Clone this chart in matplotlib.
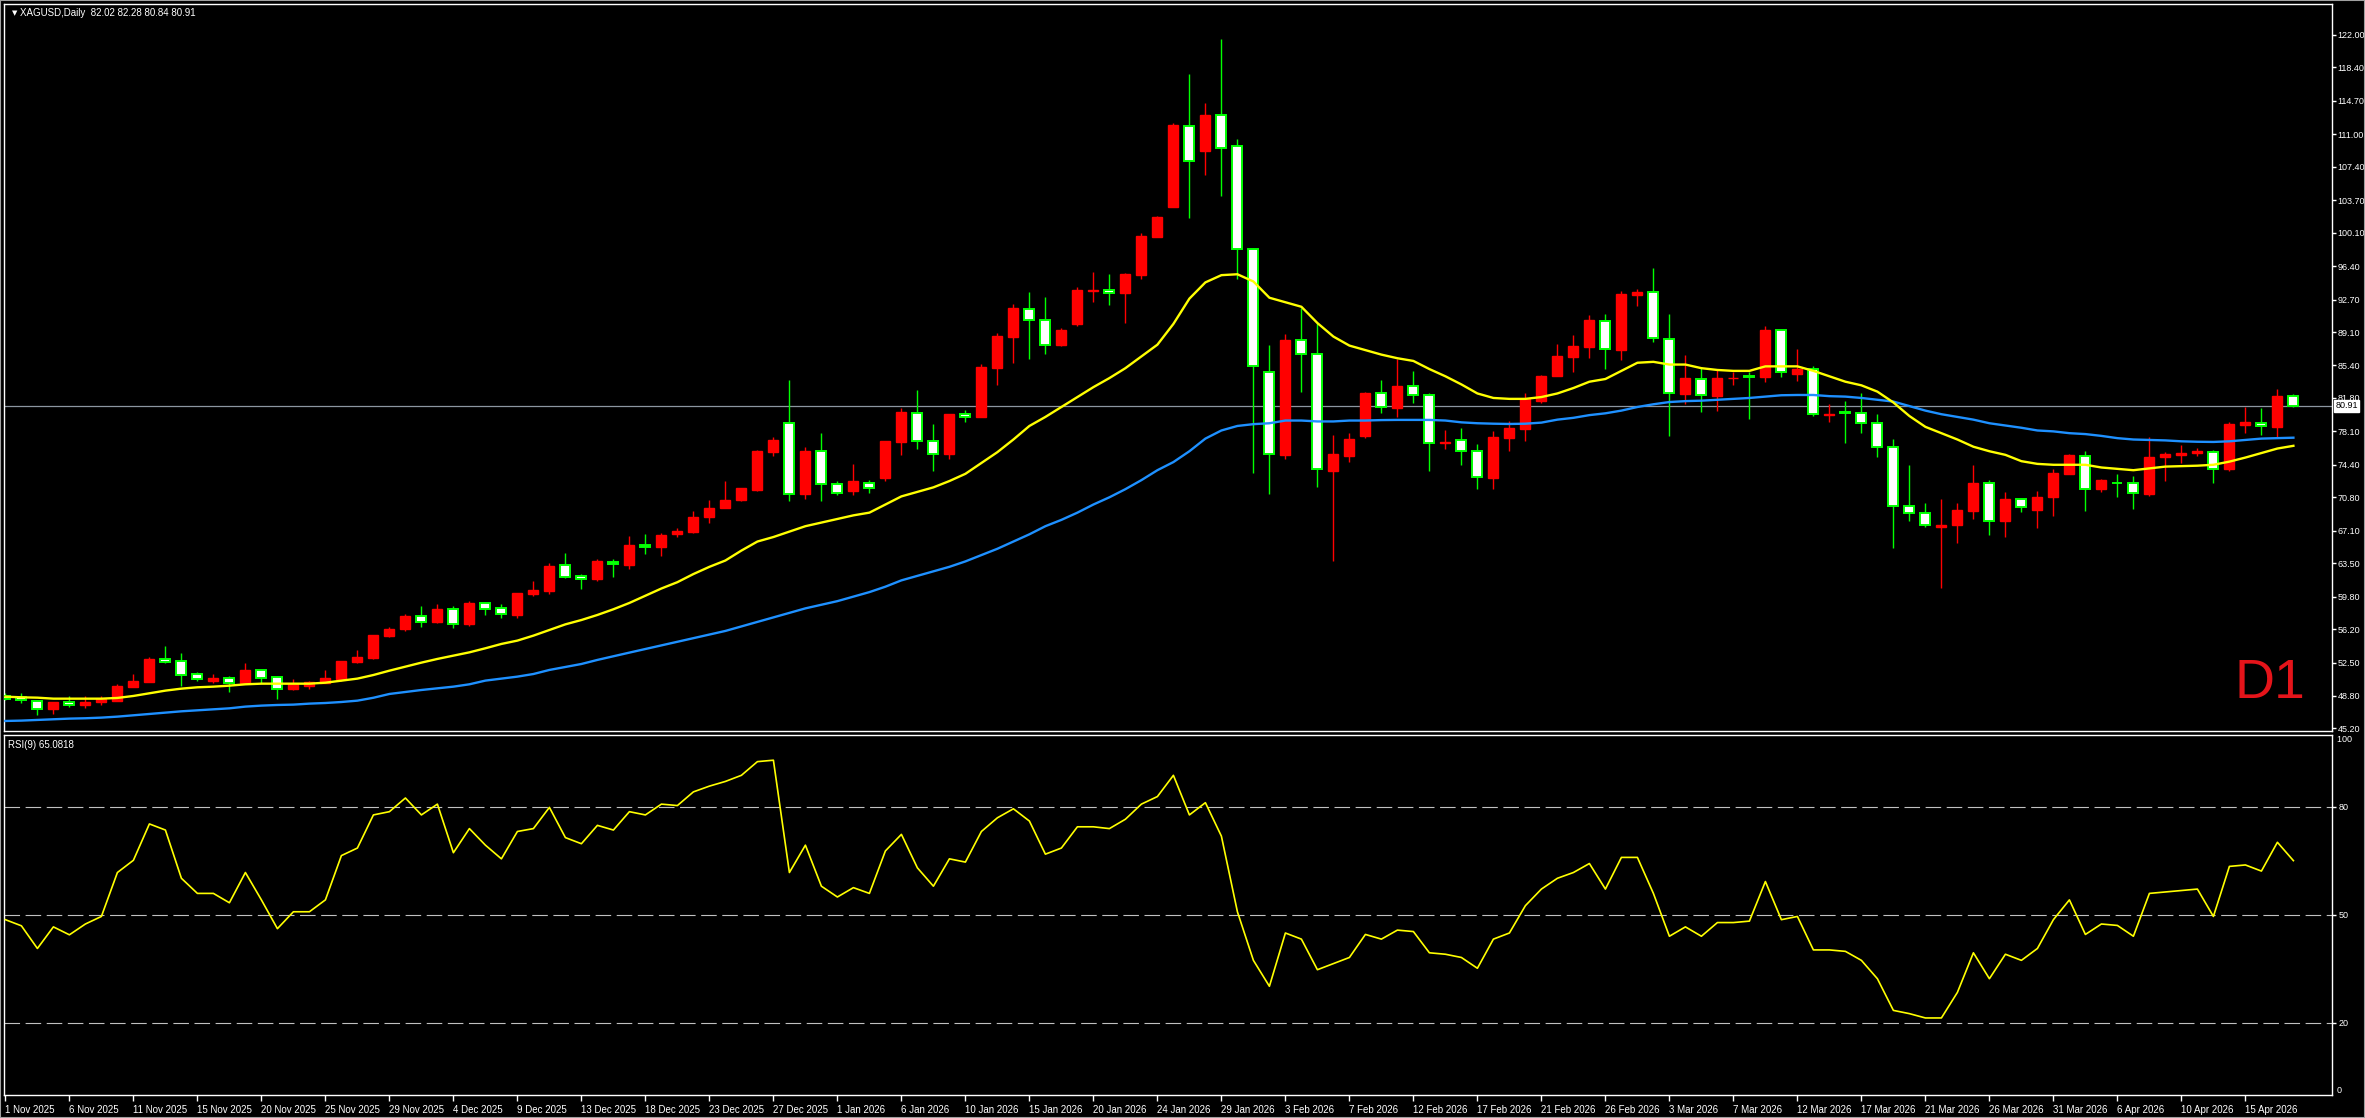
import matplotlib
matplotlib.use("Agg")
import matplotlib.pyplot as plt
import numpy as np
from matplotlib.patches import Rectangle

# ---------------- data ----------------
open_ = [48.75, 48.65, 48.28, 47.40, 48.10, 47.80, 48.13, 48.28, 49.80, 50.35,
         52.90, 52.67, 51.23, 50.50, 50.79, 50.20, 51.68, 50.86, 49.57, 49.94,
         50.24, 50.64, 52.60, 53.00, 55.48, 56.22, 57.66, 57.03, 58.40, 56.80,
         59.06, 58.50, 57.80, 60.13, 60.46, 63.27, 62.09, 61.72, 63.66, 63.33,
         65.50, 65.26, 66.74, 66.98, 68.58, 69.60, 70.47, 71.62, 75.80, 79.08,
         71.12, 75.96, 72.31, 71.45, 72.43, 72.93, 76.90, 80.19, 77.07, 75.59,
         80.06, 79.73, 85.07, 88.55, 91.67, 90.48, 87.61, 89.95, 93.68, 93.80,
         93.43, 95.40, 99.62, 102.95, 111.97, 109.15, 113.10, 109.70, 98.26, 84.64,
         75.49, 88.19, 86.64, 73.75, 75.42, 77.59, 82.32, 80.73, 83.09, 82.10,
         76.78, 77.11, 75.90, 72.98, 77.41, 78.41, 81.47, 84.27, 86.38, 87.49,
         90.37, 87.15, 93.24, 93.50, 88.37, 82.28, 83.94, 82.02, 83.98, 84.20,
         84.16, 89.29, 84.50, 84.98, 79.95, 80.20, 80.10, 79.00, 76.34, 69.88,
         69.03, 67.48, 67.70, 69.33, 72.35, 68.22, 70.58, 69.40, 70.80, 73.42,
         75.42, 71.69, 72.42, 72.35, 71.17, 75.23, 75.53, 75.75, 75.79, 73.90,
         78.85, 79.07, 78.63, 82.02]
high = [49.10, 49.10, 48.30, 48.13, 48.80, 48.80, 48.80, 50.10, 51.20, 53.10,
        54.30, 53.55, 51.45, 51.23, 51.00, 52.40, 51.83, 51.00, 50.68, 50.50,
        51.68, 52.70, 53.90, 55.60, 56.44, 57.88, 58.77, 58.99, 58.77, 59.28,
        59.20, 58.99, 60.17, 61.53, 63.50, 64.63, 62.27, 64.00, 63.94, 66.49,
        66.78, 66.82, 67.35, 69.27, 70.50, 72.56, 71.86, 76.00, 77.48, 83.83,
        76.41, 77.97, 72.56, 74.49, 72.68, 77.07, 80.64, 82.65, 78.87, 80.06,
        80.47, 85.60, 88.96, 92.16, 93.51, 92.94, 89.58, 94.05, 95.73, 95.48,
        95.69, 100.12, 101.96, 112.20, 117.67, 114.50, 121.60, 110.50, 98.37, 87.67,
        88.89, 91.73, 90.07, 77.70, 77.89, 82.46, 83.79, 86.08, 84.79, 82.32,
        78.26, 78.48, 76.67, 78.15, 79.26, 82.35, 84.35, 87.78, 88.78, 90.99,
        91.10, 93.65, 93.87, 96.20, 91.07, 86.56, 85.27, 84.86, 84.68, 84.72,
        89.77, 89.40, 87.23, 85.35, 81.14, 81.47, 82.32, 80.03, 77.26, 74.38,
        70.14, 70.62, 70.14, 74.38, 72.72, 71.36, 70.69, 71.50, 73.90, 75.60,
        75.94, 72.79, 73.39, 73.16, 77.45, 75.86, 76.60, 76.27, 76.05, 79.14,
        80.84, 80.66, 82.80, 82.28]
low = [48.40, 48.05, 46.70, 46.85, 47.60, 47.50, 47.80, 48.20, 49.80, 50.30,
       52.50, 49.90, 50.50, 50.20, 49.28, 50.10, 50.27, 48.50, 49.46, 49.60,
       50.20, 50.50, 52.50, 52.90, 55.33, 56.00, 56.44, 56.90, 56.37, 56.60,
       57.80, 57.47, 57.47, 59.90, 60.06, 61.86, 60.68, 61.53, 61.97, 62.84,
       64.48, 64.27, 66.45, 66.90, 67.96, 69.60, 70.39, 71.53, 75.34, 70.43,
       70.59, 70.43, 71.00, 71.04, 71.24, 72.56, 75.43, 76.12, 73.71, 75.02,
       79.12, 79.65, 83.22, 85.68, 86.09, 86.67, 87.53, 89.78, 92.45, 92.08,
       90.11, 94.99, 99.60, 102.90, 101.76, 106.50, 104.20, 94.94, 73.53, 71.13,
       75.08, 82.50, 71.98, 63.79, 74.75, 77.41, 80.18, 79.66, 81.28, 73.75,
       76.15, 74.42, 71.69, 71.76, 75.97, 77.08, 81.21, 84.20, 84.72, 86.27,
       84.98, 86.01, 91.99, 88.00, 77.59, 81.17, 80.29, 80.40, 83.28, 79.44,
       83.61, 84.16, 83.72, 79.85, 79.18, 76.86, 77.96, 75.31, 65.23, 68.22,
       67.48, 60.80, 65.78, 68.44, 66.63, 66.45, 69.22, 67.44, 68.77, 73.35,
       69.33, 71.43, 70.88, 69.51, 70.99, 72.64, 74.57, 75.42, 72.35, 73.76,
       77.96, 77.70, 77.52, 80.84]
close = [48.50, 48.30, 47.40, 48.10, 47.84, 48.13, 48.43, 49.90, 50.46, 52.90,
         52.60, 51.16, 50.64, 50.83, 50.27, 51.68, 50.83, 49.60, 50.09, 50.35,
         50.79, 52.67, 53.11, 55.55, 56.22, 57.66, 57.03, 58.43, 56.80, 59.10,
         58.40, 57.84, 60.17, 60.54, 63.20, 62.01, 61.72, 63.70, 63.41, 65.54,
         65.26, 66.65, 67.10, 68.66, 69.65, 70.55, 71.78, 75.92, 77.19, 71.12,
         75.96, 72.27, 71.24, 72.56, 71.86, 77.07, 80.23, 77.07, 75.59, 80.06,
         79.73, 85.19, 88.63, 91.75, 90.48, 87.69, 89.33, 93.72, 93.72, 93.47,
         95.48, 99.71, 101.80, 112.01, 108.07, 113.10, 109.50, 98.26, 85.34, 75.56,
         88.19, 86.64, 73.90, 75.60, 77.26, 82.35, 80.77, 83.13, 82.10, 76.78,
         76.96, 75.90, 73.02, 77.48, 78.48, 81.69, 84.24, 86.45, 87.56, 90.44,
         87.19, 93.32, 93.50, 88.41, 82.32, 83.98, 82.10, 83.98, 84.00, 84.16,
         89.33, 84.64, 84.98, 80.00, 80.00, 80.18, 79.00, 76.34, 69.88, 69.03,
         67.70, 67.70, 69.36, 72.35, 68.22, 70.62, 69.70, 70.84, 73.46, 75.49,
         71.69, 72.72, 72.42, 71.24, 75.23, 75.60, 75.75, 75.97, 73.94, 78.92,
         79.11, 78.66, 82.02, 80.91]

ma_fast = [48.72, 48.65, 48.61, 48.50, 48.50, 48.50, 48.50, 48.58, 48.80, 49.09,
           49.39, 49.61, 49.76, 49.83, 49.94, 50.09, 50.16, 50.16, 50.16, 50.16,
           50.27, 50.50, 50.72, 51.12, 51.60, 52.05, 52.49, 52.90, 53.26, 53.63,
           54.08, 54.56, 54.93, 55.48, 56.11, 56.73, 57.21, 57.77, 58.40, 59.10,
           59.90, 60.70, 61.40, 62.30, 63.10, 63.80, 64.90, 65.90, 66.40, 67.00,
           67.60, 68.00, 68.40, 68.80, 69.10, 70.00, 70.90, 71.40, 71.90, 72.60,
           73.40, 74.60, 75.80, 77.20, 78.70, 79.70, 80.80, 81.90, 83.00, 84.00,
           85.10, 86.40, 87.70, 90.00, 92.80, 94.60, 95.40, 95.50, 94.70, 92.90,
           92.40, 91.90, 90.10, 88.60, 87.60, 87.10, 86.60, 86.20, 85.90, 85.00,
           84.20, 83.30, 82.30, 81.80, 81.70, 81.70, 81.90, 82.30, 82.90, 83.60,
           83.90, 84.80, 85.70, 85.80, 85.50, 85.50, 85.10, 84.90, 84.80, 84.80,
           85.30, 85.30, 85.30, 84.80, 84.20, 83.60, 83.20, 82.50, 81.30, 79.80,
           78.60, 77.90, 77.20, 76.40, 75.90, 75.50, 74.80, 74.50, 74.40, 74.40,
           74.40, 74.10, 73.95, 73.80, 74.00, 74.20, 74.25, 74.30, 74.40, 74.75,
           75.20, 75.70, 76.20, 76.50]
ma_slow = [46.03, 46.07, 46.14, 46.22, 46.29, 46.33, 46.40, 46.51, 46.66, 46.81,
           46.95, 47.10, 47.21, 47.32, 47.43, 47.62, 47.73, 47.80, 47.84, 47.95,
           48.02, 48.13, 48.28, 48.60, 49.02, 49.24, 49.46, 49.65, 49.83, 50.09,
           50.50, 50.72, 50.94, 51.23, 51.68, 52.01, 52.34, 52.79, 53.20, 53.60,
           54.00, 54.40, 54.80, 55.20, 55.60, 56.00, 56.50, 57.00, 57.50, 58.00,
           58.50, 58.90, 59.30, 59.80, 60.30, 60.90, 61.60, 62.10, 62.60, 63.10,
           63.70, 64.40, 65.10, 65.90, 66.70, 67.60, 68.30, 69.10, 70.00, 70.80,
           71.70, 72.70, 73.80, 74.70, 75.90, 77.30, 78.20, 78.70, 78.90, 79.00,
           79.30, 79.30, 79.20, 79.20, 79.30, 79.30, 79.35, 79.37, 79.37, 79.37,
           79.30, 79.10, 79.00, 78.95, 78.92, 78.95, 79.07, 79.40, 79.60, 79.90,
           80.10, 80.40, 80.80, 81.10, 81.35, 81.45, 81.50, 81.60, 81.70, 81.80,
           81.95, 82.10, 82.13, 82.13, 82.00, 81.95, 81.80, 81.60, 81.40, 80.90,
           80.40, 80.00, 79.70, 79.40, 79.00, 78.75, 78.50, 78.20, 78.10, 77.90,
           77.80, 77.60, 77.35, 77.20, 77.15, 77.10, 77.00, 76.95, 76.93, 77.00,
           77.15, 77.30, 77.35, 77.40]
rsi = [48.7, 47.0, 40.7, 46.7, 44.5, 47.5, 49.6, 61.8, 65.2, 75.3,
       73.6, 60.2, 56.0, 56.0, 53.4, 61.8, 54.2, 46.2, 50.9, 50.9,
       54.2, 66.5, 68.6, 77.8, 78.7, 82.5, 77.8, 80.8, 67.3, 74.0,
       69.4, 65.6, 73.2, 74.0, 79.9, 71.5, 69.8, 74.9, 73.6, 78.7,
       77.8, 80.8, 80.4, 84.2, 85.8, 87.1, 88.8, 92.6, 93.0, 61.8,
       69.4, 58.0, 55.0, 57.6, 56.0, 67.8, 72.4, 63.1, 58.0, 65.6,
       64.7, 73.2, 77.0, 79.5, 76.1, 66.9, 68.6, 74.5, 74.5, 74.0,
       76.6, 80.8, 82.9, 88.8, 77.8, 81.2, 71.9, 50.9, 37.4, 30.2,
       45.0, 43.3, 34.8, 36.5, 38.2, 44.6, 43.3, 45.8, 45.4, 39.5,
       39.1, 38.2, 35.2, 43.3, 45.0, 52.6, 57.2, 60.2, 61.8, 64.3,
       57.2, 66.0, 66.0, 56.0, 44.1, 46.7, 44.1, 47.9, 47.9, 48.3,
       59.3, 48.7, 49.6, 40.3, 40.3, 39.9, 37.4, 32.3, 23.5, 22.6,
       21.4, 21.4, 28.5, 39.5, 32.3, 39.1, 37.4, 40.7, 48.7, 54.2,
       44.6, 47.5, 47.1, 44.1, 56.0, 56.4, 56.8, 57.2, 49.6, 63.5,
       63.9, 62.2, 70.2, 65.1]

date_labels = ["1 Nov 2025", "6 Nov 2025", "11 Nov 2025", "15 Nov 2025", "20 Nov 2025",
               "25 Nov 2025", "29 Nov 2025", "4 Dec 2025", "9 Dec 2025", "13 Dec 2025",
               "18 Dec 2025", "23 Dec 2025", "27 Dec 2025", "1 Jan 2026", "6 Jan 2026",
               "10 Jan 2026", "15 Jan 2026", "20 Jan 2026", "24 Jan 2026", "29 Jan 2026",
               "3 Feb 2026", "7 Feb 2026", "12 Feb 2026", "17 Feb 2026", "21 Feb 2026",
               "26 Feb 2026", "3 Mar 2026", "7 Mar 2026", "12 Mar 2026", "17 Mar 2026",
               "21 Mar 2026", "26 Mar 2026", "31 Mar 2026", "6 Apr 2026", "10 Apr 2026",
               "15 Apr 2026"]
label_step = 4

price_ticks = [122.00, 118.40, 114.70, 111.00, 107.40, 103.70, 100.10, 96.40, 92.70,
               89.10, 85.40, 81.80, 78.10, 74.40, 70.80, 67.10, 63.50, 59.80, 56.20,
               52.50, 48.80, 45.20]
rsi_levels = [20, 50, 80]
last_price = 80.91
title_text = "XAGUSD,Daily  82.02 82.28 80.84 80.91"
rsi_text = "RSI(9) 65.0818"

# ---------------- layout ----------------
W, H = 2365, 1118
fig = plt.figure(figsize=(W / 100, H / 100), dpi=100, facecolor="black")
FONT = "Liberation Sans"
LBL = 6.5

left_px, right_px = 4, 2332
p_top, p_bot = 4, 731
r_top, r_bot = 735, 1095


def axrect(top, bot):
    return [left_px / W, 1 - bot / H, (right_px - left_px) / W, (bot - top) / H]


ax = fig.add_axes(axrect(p_top, p_bot), facecolor="black")
axr = fig.add_axes(axrect(r_top, r_bot), facecolor="black", sharex=ax)

RED = "#ff0000"
LIME = "#00ff00"

o = np.array(open_); h = np.array(high); l = np.array(low); c = np.array(close)
n = len(o)
x = np.arange(n)
bull = c > o
bear = ~bull
bottom = np.minimum(o, c)
height = np.abs(c - o)

ax.vlines(x[bull], l[bull], h[bull], color=RED, lw=1.0, zorder=2)
ax.vlines(x[bear], l[bear], h[bear], color=LIME, lw=1.0, zorder=2)
ax.bar(x[bull], height[bull], bottom=bottom[bull], width=0.62, color=RED,
       edgecolor=RED, lw=1.0, zorder=3)
ax.bar(x[bear], height[bear], bottom=bottom[bear], width=0.62, color="white",
       edgecolor=LIME, lw=1.4, zorder=3)

ax.plot(x, ma_slow, color="#1e90ff", lw=1.7, zorder=4)
ax.plot(x, ma_fast, color="#ffff00", lw=1.7, zorder=4)
ax.axhline(last_price, color="#8c96a0", lw=0.9, zorder=1)

px_per_bar = 16.0
x0_px = 5.4
ax.set_xlim((left_px - x0_px) / px_per_bar, (right_px - x0_px) / px_per_bar)
# price scale: 80.91 at y=406 px, 9.03 px per unit
ppu = 9.03
ax.set_ylim(last_price - (p_bot - 406) / ppu, last_price + (406 - p_top) / ppu)

for a in (ax, axr):
    for s in a.spines.values():
        s.set_color("white")
        s.set_linewidth(1.0)

ax.yaxis.tick_right()
ax.set_yticks(price_ticks)
ax.set_yticklabels([f"{v:.2f}" for v in price_ticks])
ax.tick_params(axis="y", colors="white", length=3, width=1, pad=1, labelsize=LBL)
for t in ax.get_yticklabels():
    t.set_fontfamily(FONT)
ax.tick_params(axis="x", bottom=False, labelbottom=False)

ax.annotate(f"{last_price:.2f}", xy=(1.0, last_price), xycoords=("axes fraction", "data"),
            xytext=(2.5, 0), textcoords="offset points", ha="left", va="center",
            fontsize=LBL, family=FONT, color="black",
            bbox=dict(boxstyle="square,pad=0.12", fc="white", ec="white"), zorder=10,
            annotation_clip=False)

# RSI panel
axr.plot(x, rsi, color="#ffff00", lw=1.2, zorder=3)
for lv in rsi_levels:
    axr.axhline(lv, color="#c0c0c0", lw=0.8, dashes=(14, 5), zorder=1)
axr.set_ylim(0, 100)
axr.yaxis.tick_right()
axr.set_yticks(rsi_levels)
axr.set_yticklabels([str(v) for v in rsi_levels])
axr.tick_params(axis="y", colors="white", length=3, width=1, pad=2, labelsize=LBL)
for t in axr.get_yticklabels():
    t.set_fontfamily(FONT)
axr.text(1.0, 1.0, "  100", transform=axr.transAxes, ha="left", va="top",
         fontsize=LBL, family=FONT, color="white")
axr.text(1.0, 0.0, "  0", transform=axr.transAxes, ha="left", va="bottom",
         fontsize=LBL, family=FONT, color="white")

tick_pos = list(range(0, label_step * len(date_labels), label_step))
axr.set_xticks(tick_pos)
axr.set_xticklabels(date_labels)
axr.tick_params(axis="x", colors="white", length=4, width=1, pad=3, labelsize=7)
for t in axr.get_xticklabels():
    t.set_fontfamily(FONT)
    t.set_horizontalalignment("left")

# texts
fig.text(12 / W, 1 - 13 / H, "\u25bc", color="white", fontsize=5, family="DejaVu Sans",
         ha="left", va="center")
fig.text(20 / W, 1 - 13 / H, title_text, color="white", fontsize=7, family=FONT,
         ha="left", va="center")
fig.text(8 / W, 1 - 745 / H, rsi_text, color="white", fontsize=7, family=FONT,
         ha="left", va="center")
fig.text(2305 / W, 1 - 684 / H, "D1", color="#e5141a", fontsize=40, family=FONT,
         ha="right", va="center")

# outer frame
fig.patches.append(Rectangle((0, 0), 1, 1, transform=fig.transFigure, fill=False,
                             ec="#a0a0a0", lw=1.5))

fig.savefig("out.png", dpi=100, facecolor="black")
